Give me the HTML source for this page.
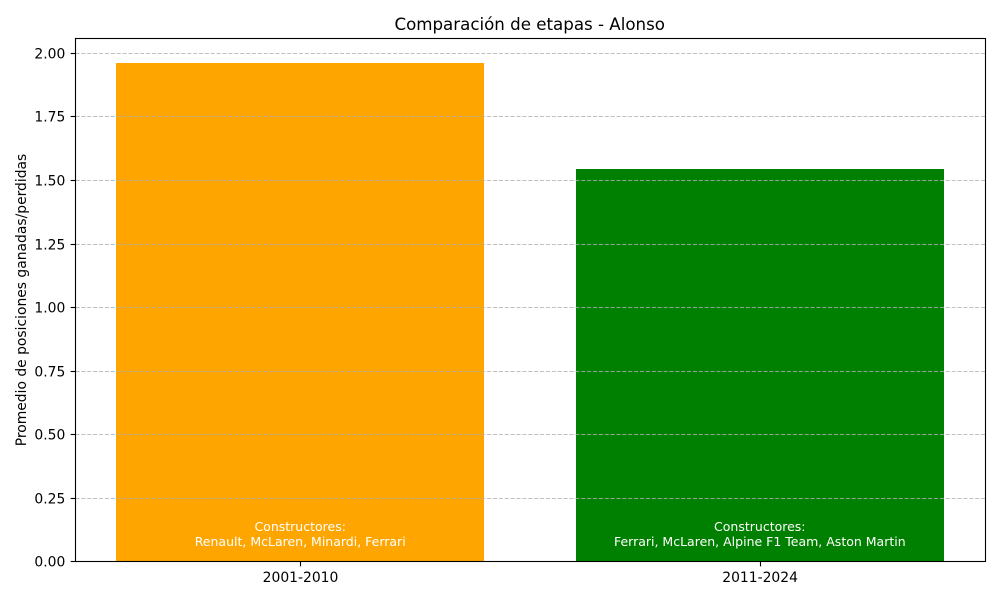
<!DOCTYPE html>
<html>
<head>
<meta charset="utf-8">
<title>Comparación de etapas - Alonso</title>
<style>
html,body{margin:0;padding:0;background:#fff;}
svg{display:block;}
text{font-family:"DejaVu Sans","Liberation Sans",sans-serif;fill:#000;}
</style>
</head>
<body>
<svg id="chart" width="1000" height="600" viewBox="0 0 1000 600" xmlns="http://www.w3.org/2000/svg"></svg>
<script>
const categories = ['2001-2010', '2011-2024'];
const seriesValues = [1.962, 1.545];
const barColors = ['orange', 'green'];
const constructorsLabel = 'Constructores:';
const constructors = ['Renault, McLaren, Minardi, Ferrari', 'Ferrari, McLaren, Alpine F1 Team, Aston Martin'];
const yTicks = [0, 0.25, 0.5, 0.75, 1, 1.25, 1.5, 1.75, 2];
const yTickLabels = ['0.00', '0.25', '0.50', '0.75', '1.00', '1.25', '1.50', '1.75', '2.00'];

const svg = document.getElementById('chart');
const NS = 'http://www.w3.org/2000/svg';
const plot = { left: 75, right: 985, top: 38.1, bottom: 561.8 };
const yMax = Math.max(...seriesValues) * 1.05;
const barWidth = 0.8;
const xMin = -barWidth / 2 - 0.09;
const xMax = categories.length - 1 + barWidth / 2 + 0.09;

function xScale(v) { return plot.left + (v - xMin) / (xMax - xMin) * (plot.right - plot.left); }
function yScale(v) { return plot.bottom - v / yMax * (plot.bottom - plot.top); }
function make(tag, attrs, parent) {
  const el = document.createElementNS(NS, tag);
  for (const k in attrs) el.setAttribute(k, attrs[k]);
  (parent || svg).appendChild(el);
  return el;
}

const frameLeft = Math.floor(plot.left) + 0.5;
const frameRight = Math.floor(plot.right) + 0.5;
const frameTop = Math.floor(plot.top) + 0.5;
const frameBottom = Math.floor(plot.bottom) + 0.5;

categories.forEach((cat, i) => {
  const x0 = Math.round(xScale(i - barWidth / 2));
  const x1 = Math.round(xScale(i + barWidth / 2));
  const yTop = Math.floor(yScale(seriesValues[i]));
  const bar = make('rect', { x: x0, y: yTop, width: x1 - x0, height: frameBottom - yTop, fill: barColors[i] });
  
  
});

yTicks.forEach((t, i) => {
  const y = Math.floor(yScale(t)) + 0.5;
  if (t > 0) {
    const grid = make('line', { x1: frameLeft, x2: frameRight, y1: y, y2: y, stroke: '#b0b0b0', 'stroke-width': 1.11, 'stroke-dasharray': '4.1 1.78', 'stroke-opacity': 0.8 });
    
    
  }
  const tick = make('line', { x1: frameLeft - 4.86, x2: frameLeft, y1: y, y2: y, stroke: '#000', 'stroke-width': 1.11 });
  
  
  const label = make('text', { x: plot.left - 9.7, y: y + 5, 'text-anchor': 'end', 'font-size': 13.89 });
  label.textContent = yTickLabels[i];
  
  
});

categories.forEach((cat, i) => {
  const x = Math.round(xScale(i)) + 0.5;
  const tick = make('line', { x1: x, x2: x, y1: frameBottom, y2: frameBottom + 4.86, stroke: '#000', 'stroke-width': 1.11 });
  
  
  const label = make('text', { x: xScale(i) + 0.3, y: 582, 'text-anchor': 'middle', 'font-size': 13.89 });
  label.textContent = cat;
  
  

  const line1 = make('text', { x: xScale(i), y: 531, 'text-anchor': 'middle', 'font-size': 12.5, style: 'fill:#fff' });
  line1.textContent = constructorsLabel;
  
  
  const line2 = make('text', { x: xScale(i), y: 546, 'text-anchor': 'middle', 'font-size': 12.5, style: 'fill:#fff' });
  line2.textContent = constructors[i];
  
  
});

const frame = make('rect', { x: frameLeft, y: frameTop, width: frameRight - frameLeft, height: frameBottom - frameTop, fill: 'none', stroke: '#000', 'stroke-width': 1.11 });



const title = make('text', { x: 529.7, y: 30, 'text-anchor': 'middle', 'font-size': 16.67 });
title.textContent = 'Comparación de etapas - Alonso';



const yTitle = make('text', { x: 0, y: 0, 'text-anchor': 'middle', 'font-size': 13.89, transform: 'translate(26,300) rotate(-90)' });
yTitle.textContent = 'Promedio de posiciones ganadas/perdidas';


</script>
</body>
</html>
